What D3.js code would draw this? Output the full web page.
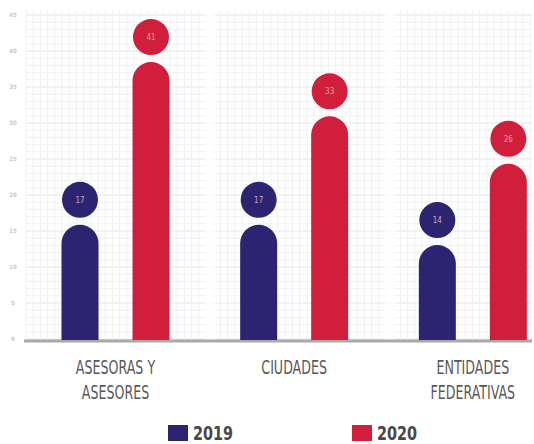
<!DOCTYPE html>
<html><head><meta charset="utf-8">
<script src="https://cdn.jsdelivr.net/npm/d3@7"></script>
<style>body{margin:0;background:#fff}svg{display:block}</style>
</head><body>
<script>
const categories = [["ASESORAS Y","ASESORES"],["CIUDADES"],["ENTIDADES","FEDERATIVAS"]];
const series = ["2019","2020"];
const values2019 = [17,17,14];
const values2020 = [41,33,26];
const tickValues = [0,5,10,15,20,25,30,35,40,45];
const colors = ["#2c2470","#d21e3d"];

(function(){
const W=534,H=444;
const svg=d3.select("body").append("svg").attr("width",W).attr("height",H);
const pLeft=26,pRight=532,pTop=10,base=340;
const FONT="DejaVu Sans Condensed, DejaVu Sans, sans-serif";

const x0=d3.scaleBand().domain(d3.range(categories.length)).range([26,562]);
const x1=d3.scalePoint().domain(series).range([54,125]);
const yAxis=d3.scaleLinear().domain([0,45]).range([339,15]);
const yBar=d3.scaleLinear().domain([0,47.8]).range([340,16]);

// background fine grid
const g=svg.append("g");
const fine=d3.range(0,46,1);
g.selectAll("line.h").data(fine).join("line")
 .attr("x1",pLeft).attr("x2",pRight).attr("y1",d=>yAxis(d)).attr("y2",d=>yAxis(d))
 .attr("stroke",d=>d%5===0?"#e4e4e4":"#f1f1f1").attr("stroke-width",1);
const vx=d3.range(pLeft,pRight,7.2);
g.selectAll("line.v").data(vx).join("line")
 .attr("x1",d=>d).attr("x2",d=>d).attr("y1",pTop).attr("y2",base)
 .attr("stroke","#f1f1f1").attr("stroke-width",1);
g.selectAll("rect.sep").data([205,385]).join("rect")
 .attr("x",d=>d).attr("y",pTop).attr("width",10).attr("height",base-pTop).attr("fill","#fff").attr("opacity",0.8);

// axis labels
svg.append("g").selectAll("text").data(tickValues).join("text")
 .attr("x",13).attr("y",d=>yAxis(d)).attr("dy","0.35em").attr("text-anchor","middle")
 .attr("font-family",FONT).attr("font-weight","bold")
 .attr("font-size",6).attr("fill","#c8c8c8").text(d=>d);

// baseline
svg.append("line").attr("x1",24).attr("x2",532).attr("y1",341).attr("y2",341)
 .attr("stroke","#a9a9a9").attr("stroke-width",3);

const data=[];
categories.forEach((c,i)=>{
  data.push({i,s:"2019",v:values2019[i],c:colors[0]});
  data.push({i,s:"2020",v:values2020[i],c:colors[1]});
});
const bw=37;
const bars=svg.append("g");
data.forEach(d=>{
  const cx=x0(d.i)+x1(d.s);
  const yt=yBar(d.v), r=bw/2;
  const path=d3.path();
  path.moveTo(cx-r,base);
  path.lineTo(cx-r,yt+r);
  path.arc(cx,yt+r,r,Math.PI,0);
  path.lineTo(cx+r,base);
  path.closePath();
  bars.append("path").attr("d",path.toString()).attr("fill",d.c);
  bars.append("circle").attr("cx",cx).attr("cy",yt-25).attr("r",18).attr("fill",d.c);
  bars.append("text").attr("x",cx).attr("y",yt-25).attr("dy","0.35em").attr("text-anchor","middle")
   .attr("font-family",FONT)
   .attr("font-size",8).attr("fill","#e8c7cf").attr("opacity",0.8).text(d.v);
});

// category labels
const cl=svg.append("g");
categories.forEach((lines,i)=>{
  const cx=x0(i)+(x1("2019")+x1("2020"))/2;
  lines.forEach((t,k)=>{
    cl.append("g").attr("transform",`translate(${cx},${374+k*25}) scale(0.74,1)`)
     .append("text").attr("x",0).attr("y",0).attr("text-anchor","middle")
     .attr("font-family",FONT)
     .attr("font-size",19).attr("fill","#595959").text(t);
  });
});

// legend
const lg=svg.append("g");
const lx=[168,352];
series.forEach((s,k)=>{
  lg.append("rect").attr("x",lx[k]).attr("y",425).attr("width",20).attr("height",16).attr("fill",colors[k]);
  lg.append("g").attr("transform",`translate(${lx[k]+25},440) scale(0.8,1)`)
   .append("text").attr("x",0).attr("y",0)
   .attr("font-family",FONT)
   .attr("font-size",20).attr("font-weight","bold").attr("fill","#484848").text(s);
});
})();
</script>
</body></html>
